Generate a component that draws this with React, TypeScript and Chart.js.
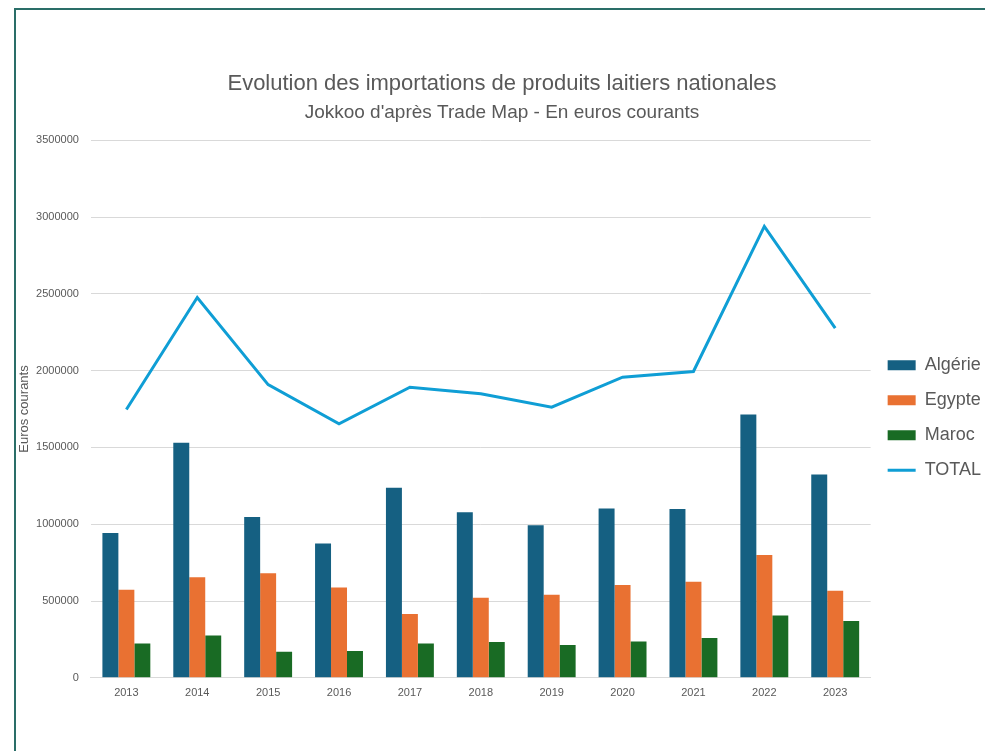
import { useEffect, useRef } from "react";
import { Chart, registerables } from "chart.js";
Chart.register(...registerables);

const years = ["2013", "2014", "2015", "2016", "2017", "2018", "2019", "2020", "2021", "2022", "2023"];
const algerie = [943000, 1530000, 1047000, 875000, 1238000, 1077000, 993000, 1103000, 1099000, 1714000, 1323000];
const egypte = [573000, 654000, 680000, 588000, 415000, 521000, 541000, 604000, 626000, 800000, 567000];
const maroc = [224000, 276000, 169000, 174000, 224000, 233000, 213000, 237000, 259000, 406000, 370000];
const total = [1747000, 2476000, 1909000, 1653000, 1892000, 1849000, 1762000, 1957000, 1994000, 2939000, 2276000];
const yMax = 3500000;
const yStep = 500000;

const C_ALG = "#156082";
const C_EGY = "#E97132";
const C_MAR = "#196B24";
const C_TOT = "#0F9ED5";
const TXT = "#595959";

export default function App() {
  const ref = useRef<HTMLCanvasElement>(null);
  useEffect(() => {
    document.body.style.margin = "0";
    document.body.style.overflow = "hidden";
    document.documentElement.style.overflow = "hidden";
    const chart = new Chart(ref.current!, {
      type: "bar",
      data: {
        labels: years,
        datasets: [
          { label: "Algérie", data: algerie, backgroundColor: C_ALG, borderWidth: 0 },
          { label: "Egypte", data: egypte, backgroundColor: C_EGY, borderWidth: 0 },
          { label: "Maroc", data: maroc, backgroundColor: C_MAR, borderWidth: 0 },
          {
            type: "line",
            label: "TOTAL",
            data: total,
            borderColor: C_TOT,
            backgroundColor: C_TOT,
            borderWidth: 3,
            pointRadius: 0,
            tension: 0,
            fill: false,
          } as any,
        ],
      },
      options: {
        responsive: false,
        animation: false,
        datasets: { bar: { categoryPercentage: 0.676, barPercentage: 1 } } as any,
        layout: { padding: { left: 13, right: 9, top: 0, bottom: 42 } },
        plugins: {
          title: {
            display: true,
            text: "Evolution des importations de produits laitiers nationales",
            color: TXT,
            font: { family: "'Liberation Sans', Arial, sans-serif", size: 22, weight: "normal" },
            padding: { top: 71, bottom: 4 },
          },
          subtitle: {
            display: true,
            text: "Jokkoo d'après Trade Map - En euros courants",
            color: TXT,
            font: { family: "'Liberation Sans', Arial, sans-serif", size: 19, weight: "normal" },
            padding: { top: 0, bottom: 16 },
          },
          legend: {
            position: "right",
            align: "center",
            title: { display: true, text: " ", padding: { top: 112, bottom: 0 }, font: { size: 12 } },
            labels: {
              usePointStyle: true,
              pointStyleWidth: 28,
              boxHeight: 10,
              padding: 17,
              color: TXT,
              font: { family: "'Liberation Sans', Arial, sans-serif", size: 18 },
              generateLabels: (c: any) => {
                const items = (Chart.defaults.plugins.legend.labels as any).generateLabels(c);
                return items.map((it: any) => {
                  const isLine = it.datasetIndex === 3;
                  return {
                    ...it,
                    pointStyle: isLine ? "line" : "rect",
                    lineWidth: isLine ? 3 : 0,
                    strokeStyle: isLine ? C_TOT : it.fillStyle,
                  };
                });
              },
            },
          },
          tooltip: { enabled: false },
        },
        scales: {
          x: {
            grid: { display: false, drawTicks: false },
            border: { display: true, color: "#d9d9d9", width: 1 },
            ticks: { color: TXT, padding: 9, font: { family: "'Liberation Sans', Arial, sans-serif", size: 11 } },
          },
          y: {
            min: 0,
            max: yMax,
            grid: { color: "#d9d9d9", drawTicks: false },
            border: { display: false },
            ticks: {
              stepSize: yStep,
              color: TXT,
              padding: 12,
              font: { family: "'Liberation Sans', Arial, sans-serif", size: 11 },
              callback: (v: any) => String(v),
            },
            title: {
              display: true,
              text: "Euros courants",
              color: TXT,
              font: { family: "'Liberation Sans', Arial, sans-serif", size: 13 },
              padding: { top: 4, bottom: -8.5 },
            },
          },
        },
      },
    });
    return () => chart.destroy();
  }, []);
  return (
    <div style={{ position: "relative", width: 985, height: 751, overflow: "hidden", background: "#fff" }}>
      <div
        style={{
          position: "absolute",
          left: 14,
          top: 8,
          width: 1000,
          height: 800,
          border: "2px solid #2a6e68",
          boxSizing: "border-box",
        }}
      />
      <canvas ref={ref} width={1000} height={751} style={{ position: "absolute", left: 0, top: 0 }} />
    </div>
  );
}
